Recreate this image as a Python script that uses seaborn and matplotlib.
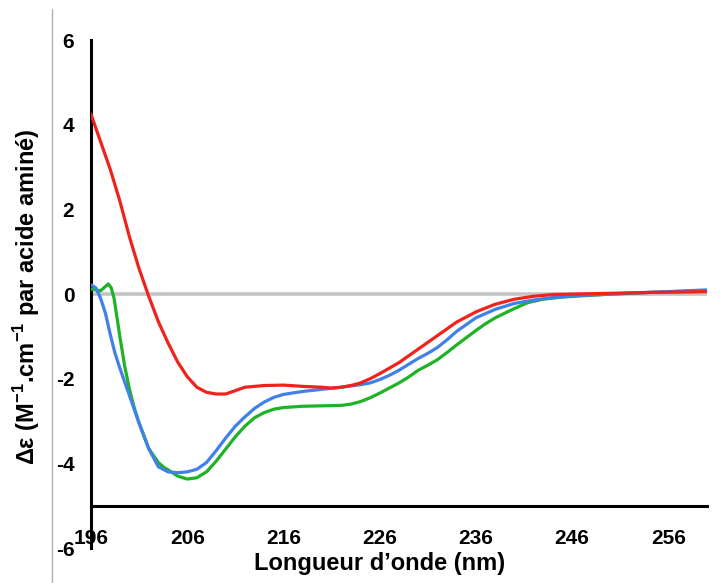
import numpy as np
import pandas as pd
import matplotlib
matplotlib.use('Agg')
import matplotlib.pyplot as plt
from matplotlib.lines import Line2D
import seaborn as sns

# Valeurs (longueur d'onde en nm, delta epsilon)
red_nm = [196, 197, 198, 199, 200, 201, 202, 203, 204, 205, 206, 207, 208, 209, 210,
          211, 212, 213, 214, 216, 218, 220, 221, 222, 223, 224, 225, 226, 228, 230,
          232, 234, 236, 238, 240, 242, 244, 246, 250, 254, 258, 260]
red_val = [4.25, 3.6, 2.95, 2.2, 1.35, 0.6, -0.05, -0.65, -1.15, -1.6, -1.95, -2.2, -2.32, -2.36, -2.36,
           -2.28, -2.2, -2.18, -2.16, -2.15, -2.18, -2.2, -2.22, -2.2, -2.16, -2.1, -2.0, -1.88, -1.62, -1.3,
           -0.98, -0.66, -0.42, -0.24, -0.12, -0.05, -0.01, 0.0, 0.02, 0.04, 0.05, 0.06]

blue_nm = [196, 196.5, 197, 197.5, 198, 198.5, 199, 200, 201, 202, 203, 204, 205, 206, 207,
           208, 209, 210, 211, 212, 213, 214, 215, 216, 218, 220, 222, 224, 225, 226,
           227, 228, 229, 230, 231, 232, 233, 234, 236, 238, 240, 242, 244, 246, 250,
           254, 258, 260]
blue_val = [0.22, 0.15, -0.1, -0.45, -0.95, -1.4, -1.75, -2.4, -3.05, -3.65, -4.08, -4.2, -4.22, -4.2, -4.14,
            -3.98, -3.7, -3.4, -3.12, -2.9, -2.7, -2.55, -2.44, -2.37, -2.3, -2.25, -2.2, -2.14, -2.1, -2.02,
            -1.92, -1.8, -1.66, -1.52, -1.4, -1.26, -1.08, -0.88, -0.56, -0.36, -0.22, -0.14, -0.08, -0.04, 0.0,
            0.04, 0.08, 0.1]

green_nm = [196, 196.5, 197, 197.5, 197.8, 198.1, 198.4, 199, 199.5, 200, 200.5, 201, 202, 203, 203.6,
            204, 205, 206, 207, 208, 209, 210, 211, 212, 213, 214, 215, 216, 218, 220,
            222, 223, 224, 225, 226, 228, 229, 230, 231, 232, 233, 234, 235, 236, 237,
            238, 240, 241.4, 243, 245, 247, 250, 254, 258, 260]
green_val = [0.12, 0.1, 0.08, 0.18, 0.24, 0.15, -0.1, -1.0, -1.7, -2.25, -2.69, -3.05, -3.65, -3.98, -4.1,
             -4.15, -4.3, -4.37, -4.34, -4.2, -3.95, -3.66, -3.37, -3.12, -2.92, -2.8, -2.72, -2.68, -2.65, -2.64,
             -2.63, -2.6, -2.54, -2.45, -2.34, -2.1, -1.96, -1.8, -1.68, -1.55, -1.38, -1.2, -1.03, -0.86, -0.7,
             -0.56, -0.34, -0.2, -0.12, -0.07, -0.04, 0.0, 0.04, 0.07, 0.08]

x_ticks = [196, 206, 216, 226, 236, 246, 256]
y_ticks = [-6, -4, -2, 0, 2, 4, 6]

colors = {'rouge': '#f0221c', 'bleu': '#4080ea', 'vert': '#1db324'}

df = pd.concat([
    pd.DataFrame({'nm': red_nm, 'de': red_val, 'serie': 'rouge'}),
    pd.DataFrame({'nm': blue_nm, 'de': blue_val, 'serie': 'bleu'}),
    pd.DataFrame({'nm': green_nm, 'de': green_val, 'serie': 'vert'}),
])

sns.set_style('white')
plt.rcParams['font.family'] = ['Liberation Sans', 'DejaVu Sans']
plt.rcParams['mathtext.fontset'] = 'custom'
plt.rcParams['mathtext.bf'] = 'Liberation Sans:bold'
plt.rcParams['mathtext.rm'] = 'Liberation Sans:bold'
plt.rcParams['text.color'] = 'black'
plt.rcParams['axes.labelcolor'] = 'black'
plt.rcParams['xtick.color'] = 'black'
plt.rcParams['ytick.color'] = 'black'

fig = plt.figure(figsize=(7.25, 5.83), dpi=100)
ax = fig.add_axes([0.1255, 0.06, 0.8495, 0.871])

ax.axhline(0, color='#c4c4c4', lw=2.6, zorder=1)
sns.lineplot(data=df, x='nm', y='de', hue='serie', palette=colors,
             hue_order=['vert', 'bleu', 'rouge'],
             estimator=None, sort=False, lw=2.3, legend=False, ax=ax, zorder=3)

# axes et spines
for s in ['top', 'right']:
    ax.spines[s].set_visible(False)
for s in ['left', 'bottom']:
    ax.spines[s].set_color('black')
    ax.spines[s].set_linewidth(2.2)
ax.spines['bottom'].set_position(('data', -5))

ax.set_xlim(196, 260)
ax.set_ylim(-6, 6)
ax.set_xticks(x_ticks)
ax.set_yticks(y_ticks)
ax.set_xticklabels([str(t) for t in x_ticks], fontsize=15, fontweight='bold')
ax.set_yticklabels([str(t) for t in y_ticks], fontsize=15, fontweight='bold')

ax.tick_params(axis='x', direction='in', length=5, width=2.2, pad=17, colors='black')
ax.tick_params(axis='y', direction='in', length=5, width=2.2, pad=12, colors='black')

ax.set_xlabel('Longueur d\u2019onde (nm)', fontsize=17, fontweight='bold')
ax.xaxis.set_label_coords(0.468, -0.008)
ax.set_ylabel(r'Δε (M$^{\mathbf{-1}}$.cm$^{\mathbf{-1}}$ par acide aminé)',
              fontsize=17, fontweight='bold')
ax.yaxis.set_label_coords(-0.08, 0.495)

# trait gris vertical a gauche
fig.add_artist(Line2D([0.072, 0.072], [0.0, 0.985], color='#b0b0b0', lw=1,
                      transform=fig.transFigure))

plt.savefig('out.png', dpi=100)
